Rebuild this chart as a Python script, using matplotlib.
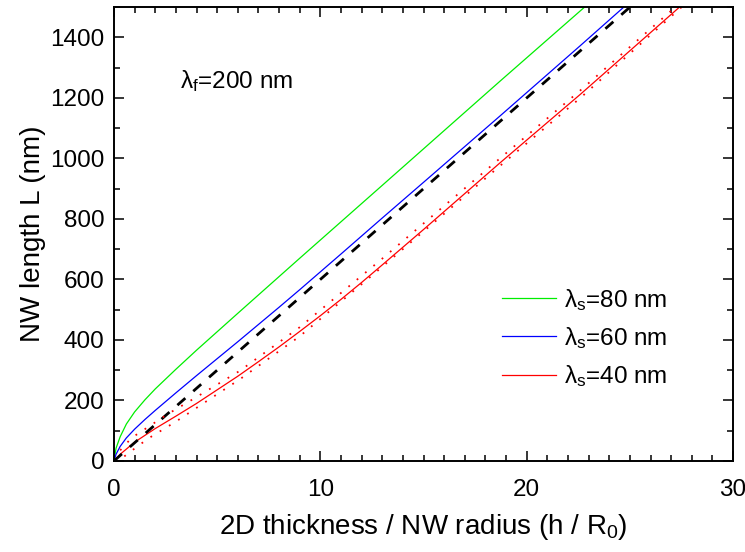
import matplotlib
matplotlib.use("Agg")
import matplotlib.pyplot as plt
from matplotlib.ticker import MultipleLocator

plt.rcParams['font.family'] = ['Liberation Sans', 'DejaVu Sans']
plt.rcParams['mathtext.fontset'] = 'custom'
plt.rcParams['mathtext.rm'] = 'Liberation Sans'
plt.rcParams['mathtext.it'] = 'Liberation Sans:italic'
plt.rcParams['mathtext.default'] = 'regular'

# ---- data ----
green_x = [0, 0.1, 0.3, 0.6, 1, 1.5, 2, 3, 4, 6, 9, 13, 18.7, 22.8]
green_L = [0, 42, 80, 122, 162, 202, 238, 303, 366, 488, 670, 911, 1255, 1500]

blue_x = [0, 0.1, 0.3, 0.6, 1, 1.5, 2, 3, 4, 5, 6, 7, 8, 9, 10, 11, 13, 15, 18.7, 22.6, 24.7]
blue_L = [0, 22, 48, 76, 105, 137, 167, 225, 282, 338, 394, 451, 508, 566, 625, 684, 803, 921, 1140, 1373, 1500]

red_x = [0, 0.3, 1, 2, 3, 4, 5, 6, 7, 8, 9, 10, 11, 12, 13, 15, 18.7, 22.6, 27.4]
red_L = [0, 22, 62, 107, 148, 190, 235, 280, 328, 377, 428, 480, 534, 590, 648, 765, 985, 1212, 1500]

black_x = [0, 25]
black_L = [0, 1500]

dot_up_x = [0.3, 0.85, 1.45, 2.63, 3.8, 6.1, 9.0, 12.9, 18.7, 22.6, 27.2]
dot_up_L = [35, 76, 103, 156, 203, 298, 442, 663, 1000, 1225, 1500]

dot_lo_x = [0.5, 1.23, 1.8, 3.0, 4.1, 6.1, 9.0, 12.9, 18.7, 22.6, 27.5]
dot_lo_L = [15, 53, 80, 130, 180, 270, 412, 636, 975, 1200, 1500]

legend_labels = [r'$\lambda_\mathrm{s}$=80 nm', r'$\lambda_\mathrm{s}$=60 nm', r'$\lambda_\mathrm{s}$=40 nm']

fig = plt.figure(figsize=(7.45, 5.52), dpi=100)
ax = fig.add_axes([0.153, 0.165, 0.831, 0.822])

l1, = ax.plot(green_x, green_L, color='#00ee00', lw=0.9)
l2, = ax.plot(blue_x, blue_L, color='#0000ff', lw=0.9)
l3, = ax.plot(red_x, red_L, color='#ff0000', lw=0.9)
ax.plot(black_x, black_L, color='black', lw=2.0, dashes=(3.8, 3.8))
ax.plot(dot_up_x, dot_up_L, color='#ff0000', lw=1.3, dashes=(1, 5))
ax.plot(dot_lo_x, dot_lo_L, color='#ff0000', lw=1.3, dashes=(1, 5))

ax.set_xlim(0, 30)
ax.set_ylim(0, 1500)
ax.xaxis.set_major_locator(MultipleLocator(10))
ax.xaxis.set_minor_locator(MultipleLocator(1))
ax.yaxis.set_major_locator(MultipleLocator(200))
ax.yaxis.set_minor_locator(MultipleLocator(100))
ax.tick_params(which='both', direction='in', top=True, right=True, width=1.1)
ax.tick_params(which='major', length=7, labelsize=17.5)
ax.tick_params(which='minor', length=4)
ax.tick_params(axis='x', which='major', pad=13)
ax.tick_params(axis='y', which='major', pad=7)
for s in ax.spines.values():
    s.set_linewidth(1.4)

ax.set_xlabel(r'2D thickness / NW radius (h / R$_0$)', fontsize=20, labelpad=8)
ax.set_ylabel('NW length L (nm)', fontsize=20, labelpad=3)

ax.text(3.2, 1232, r'$\lambda_\mathrm{f}$=200 nm', fontsize=17.5, va='baseline')

ax.legend([l1, l2, l3], legend_labels, loc='center left', bbox_to_anchor=(0.627, 0.271),
          frameon=False, fontsize=17.5, handlelength=2.2, labelspacing=0.5,
          handletextpad=0.35, borderpad=0, borderaxespad=0)

fig.savefig('out.png', dpi=100)
